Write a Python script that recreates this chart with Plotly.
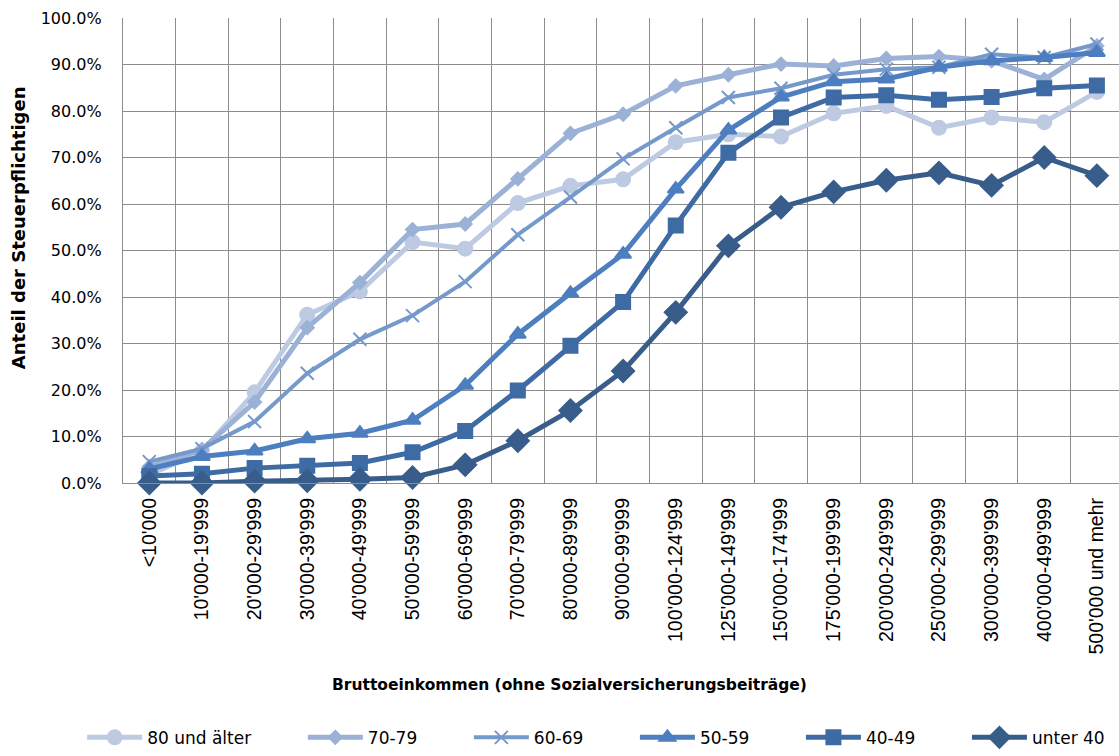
import plotly.graph_objects as go

categories = ["<10'000", "10'000-19'999", "20'000-29'999", "30'000-39'999", "40'000-49'999",
              "50'000-59'999", "60'000-69'999", "70'000-79'999", "80'000-89'999", "90'000-99'999",
              "100'000-124'999", "125'000-149'999", "150'000-174'999", "175'000-199'999",
              "200'000-249'999", "250'000-299'999", "300'000-399'999", "400'000-499'999",
              "500'000 und mehr"]

s_80 = [1.8, 6.8, 19.5, 36.2, 41.2, 51.8, 50.4, 60.2, 63.9, 65.3, 73.3, 75.0, 74.5, 79.5, 81.1, 76.4, 78.6, 77.6, 84.1]
s_70 = [3.5, 7.2, 17.4, 33.4, 43.1, 54.5, 55.7, 65.4, 75.2, 79.3, 85.4, 87.8, 90.1, 89.7, 91.3, 91.7, 90.8, 86.8, 94.0]
s_60 = [4.6, 7.4, 13.2, 23.6, 30.9, 36.0, 43.3, 53.4, 61.5, 69.7, 76.4, 82.9, 84.9, 87.8, 89.0, 89.4, 92.2, 91.5, 94.4]
s_50 = [3.0, 5.7, 6.9, 9.5, 10.7, 13.5, 21.0, 32.0, 40.8, 49.2, 63.2, 75.9, 83.0, 86.3, 86.9, 89.4, 90.8, 91.5, 92.6]
s_40 = [1.5, 2.0, 3.2, 3.7, 4.3, 6.6, 11.2, 19.9, 29.5, 38.9, 55.4, 71.0, 78.6, 82.9, 83.4, 82.4, 83.0, 84.9, 85.5]
s_u40 = [0.0, 0.0, 0.4, 0.5, 0.8, 1.2, 3.9, 9.1, 15.6, 24.1, 36.7, 51.0, 59.3, 62.6, 65.1, 66.7, 64.0, 70.0, 66.1]

names = ["80 und älter", "70-79", "60-69", "50-59", "40-49", "unter 40"]
series = [s_80, s_70, s_60, s_50, s_40, s_u40]
colors = ["#bdcae2", "#9bb1d6", "#7599ca", "#4d7ebf", "#3e6ba4", "#385d8b"]
symbols = ["circle", "diamond", "x-thin", "triangle-up", "square", "diamond"]
sizes = [14, 10, 13, 14, 14, 17]
widths = [5, 5, 4, 5, 5, 5]

PAD = "\u00a0" * 8 + "\u2009"

fig = go.Figure()
for i, (n, s, c, sym, sz, w) in enumerate(zip(names, series, colors, symbols, sizes, widths)):
    label = n + (PAD if i < len(names) - 1 else "")
    fig.add_trace(go.Scatter(
        x=categories, y=[v / 100 for v in s], name=label, mode="lines+markers",
        line=dict(color=c, width=w),
        marker=dict(symbol=sym, size=sz, color=c, line=dict(color=c, width=2)),
        cliponaxis=False,
    ))

fig.update_layout(
    width=1119, height=756,
    margin=dict(l=123, r=0, t=18, b=268),
    paper_bgcolor="white", plot_bgcolor="white",
    showlegend=True,
    legend=dict(orientation="h", x=-0.041, xanchor="left", y=-0.548, yanchor="middle",
                font=dict(family="DejaVu Sans", size=17, color="#000"), itemwidth=55,
                traceorder="normal"),
    xaxis=dict(
        type="category", range=[-0.5, 18.42], tickson="boundaries",
        showgrid=True, gridcolor="#8c8c8c", gridwidth=1.3,
        showline=True, linecolor="#8c8c8c", linewidth=1.3,
        ticks="", tickangle=-90, ticklabelstandoff=6,
        tickfont=dict(family="Liberation Sans", size=19.5, color="#000"),
    ),
    yaxis=dict(
        range=[0, 1], dtick=0.1, tickformat=".1%",
        showgrid=True, gridcolor="#8c8c8c", gridwidth=1.3,
        showline=True, linecolor="#8c8c8c", linewidth=1.3,
        zeroline=False, ticks="", ticklabelstandoff=17,
        tickfont=dict(family="DejaVu Sans", size=16, color="#000"),
    ),
    annotations=[
        dict(text="<b>Bruttoeinkommen (ohne Sozialversicherungsbeiträge)</b>",
             xref="paper", yref="paper", x=0.4486, y=-0.435, xanchor="center", yanchor="middle",
             showarrow=False, font=dict(family="DejaVu Sans", size=15.5, color="#000")),
        dict(text="<b>Anteil der Steuerpflichtigen</b>", textangle=-90,
             xref="paper", yref="paper", x=-0.1055, y=0.55, xanchor="center", yanchor="middle",
             showarrow=False, font=dict(family="DejaVu Sans", size=18, color="#000")),
    ],
)

fig.write_html("out.html", config={"displayModeBar": False},
               post_script="document.body.style.margin='0';document.body.style.overflow='hidden';")
